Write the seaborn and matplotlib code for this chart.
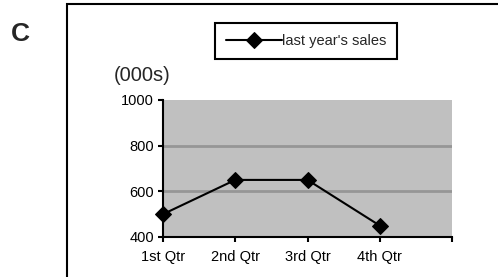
import numpy as np
import pandas as pd
import matplotlib
matplotlib.use('Agg')
import matplotlib.pyplot as plt
import matplotlib.patches as mpatches
import seaborn as sns

# dados do gráfico
quarters = ['1st Qtr', '2nd Qtr', '3rd Qtr', '4th Qtr']
sales = [500, 650, 650, 450]
y_ticks = [400, 600, 800, 1000]
series_label = "last year's sales"

df = pd.DataFrame({'quarter': quarters, 'sales': sales})

sns.set_style('white')
plt.rcParams['font.family'] = ['Liberation Sans', 'DejaVu Sans']

W, H = 498, 277
fig = plt.figure(figsize=(W / 100, H / 100), dpi=100)
ax = fig.add_axes([163 / W, 1 - 237 / H, (452 - 163) / W, (237 - 100) / H])
ax.set_facecolor('#c0c0c0')

sns.lineplot(data=df, x='quarter', y='sales', ax=ax, color='black',
             linewidth=1.5, marker='D', markersize=8, markeredgecolor='black',
             label=series_label, sort=False)
for ln in ax.get_lines():
    ln.set_clip_on(False)
    ln.set_zorder(5)

ax.set_xlim(0, len(quarters))
ax.set_xticks(range(len(quarters) + 1))
ax.set_xticklabels(quarters + [''])
ax.set_ylim(y_ticks[0], y_ticks[-1])
ax.set_yticks(y_ticks)
ax.set_xlabel('')
ax.set_ylabel('')

# grade
ax.yaxis.grid(True, color='#969696', linewidth=2)
ax.xaxis.grid(False)
ax.get_ygridlines()[-1].set_visible(False)
ax.set_axisbelow(True)

for s in ['top', 'right']:
    ax.spines[s].set_visible(False)
for s in ['left', 'bottom']:
    ax.spines[s].set_color('black')
    ax.spines[s].set_linewidth(1.5)
    ax.spines[s].set_zorder(4)

ax.tick_params(axis='both', which='both', direction='out', length=3.5, width=1.5,
               color='black', labelsize=10.5, labelcolor='black',
               bottom=True, left=True)
ax.tick_params(axis='y', pad=3)
ax.tick_params(axis='x', pad=6)

leg = ax.legend(loc='center', bbox_to_anchor=(306 / W, 1 - 41 / H),
                bbox_transform=fig.transFigure, fontsize=10.5, frameon=True,
                fancybox=False, framealpha=1, edgecolor='black',
                handlelength=3.8, handletextpad=0.0, borderpad=0.75,
                borderaxespad=0)
leg.get_frame().set_linewidth(1.5)

# moldura externa
fig.add_artist(mpatches.Rectangle((67 / W, -0.2), 1.0, 1.2 - 4 / H,
                                  transform=fig.transFigure, fill=False,
                                  edgecolor='black', linewidth=1.5, clip_on=False))

fig.text(142 / W, 1 - 75 / H, '(000s)', ha='center', va='center', fontsize=14.5)
fig.text(20 / W, 1 - 34 / H, 'C', ha='center', va='center', fontsize=19,
         fontweight='bold')

fig.savefig('out.png', dpi=100)
